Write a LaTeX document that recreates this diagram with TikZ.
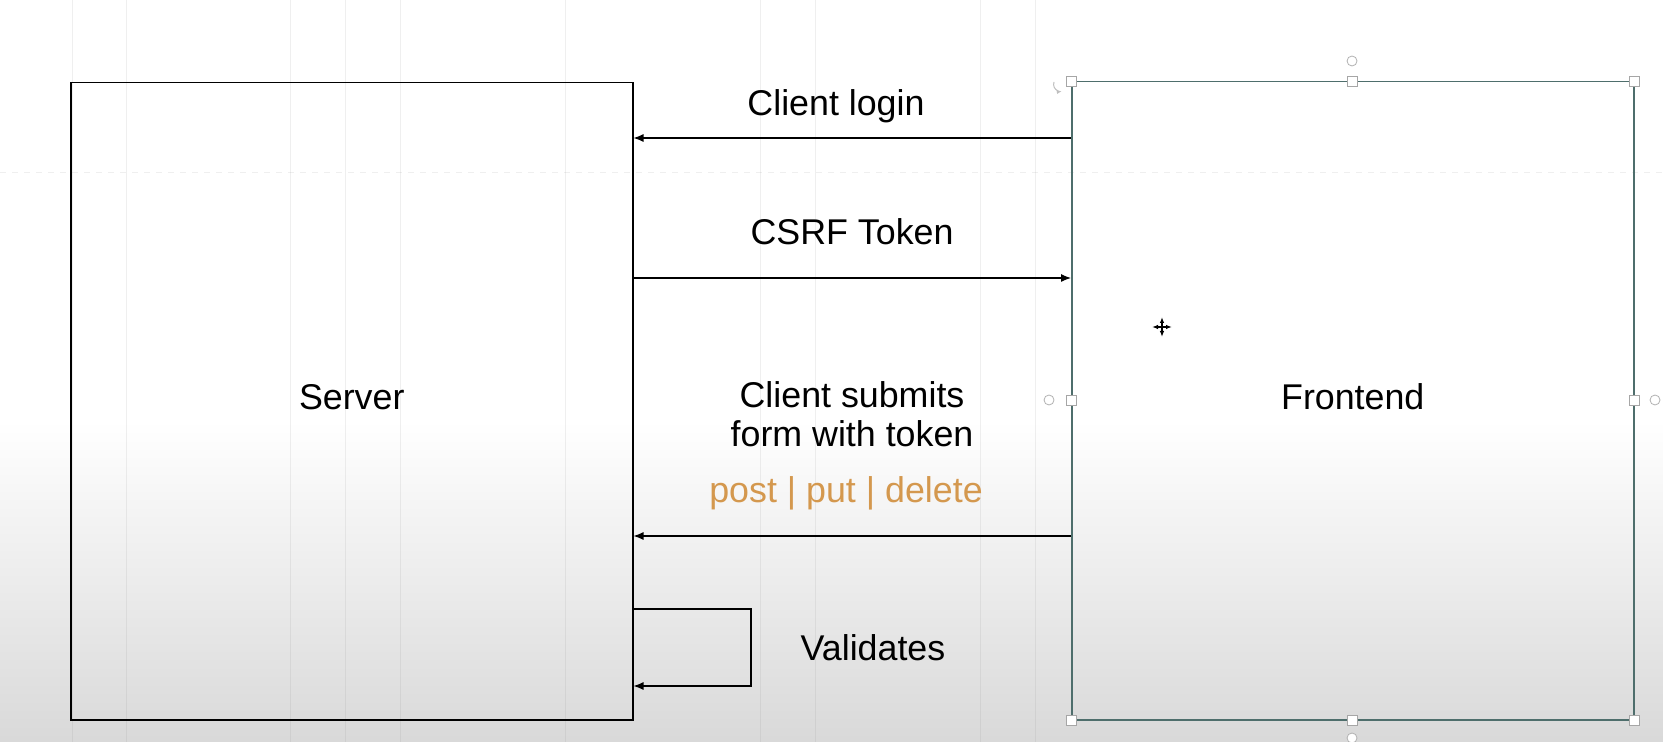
\documentclass[tikz,border=0pt]{standalone}
\usepackage{fontspec}
\setmainfont{Liberation Sans}
\usetikzlibrary{arrows.meta}
\definecolor{tan}{HTML}{D4984E}
\definecolor{selcol}{HTML}{4E6E6C}
\tikzset{
  box/.style={draw=black, line width=0.75pt},
  lbl/.style={font=\fontsize{17.9pt}{19.5pt}\selectfont, align=center, inner sep=0pt},
  msg/.style={draw=black, line width=0.6pt, -{Latex[length=5pt,width=4pt]}},
  handle/.style={draw=gray!70, fill=white, line width=0.4pt, minimum size=5pt, inner sep=0pt},
  rot/.style={draw=gray!60, fill=white, circle, line width=0.4pt, minimum size=5pt, inner sep=0pt},
  gridline/.style={draw=gray, opacity=0.12, line width=0.4pt},
}
\begin{document}
\begin{tikzpicture}[x=0.5pt,y=-0.5pt]
\useasboundingbox (0,0) rectangle (1663,742);
\fill[white] (0,0) rectangle (1663,420);
\shade[top color=white, bottom color=gray!30] (0,420) rectangle (1663,742);
% faint grid lines
\foreach \x in {72,126,290,345,400,565,760,815,980,1035} \draw[gridline] (\x,0) -- (\x,742);
\draw[gridline, dashed] (0,172) -- (1663,172);
% boxes
\node[box, minimum width=281pt, minimum height=318.5pt, inner sep=0pt, anchor=north west] (server) at (70,82) {};
\node[box, draw=selcol, minimum width=281pt, minimum height=319pt, inner sep=0pt, anchor=north west] (front) at (1071,81) {};
\node[lbl] (st) at ([yshift=2.2pt]server.center) {Server};
\node[lbl] (ft) at ([yshift=2.2pt]front.center) {Frontend};
% connectors
\coordinate (f1) at (front.west |- 0,138);
\coordinate (s1) at (server.east |- 0,138);
\draw[msg] (f1) -- (s1);
\node[lbl] (l1) at (836,106) {Client login};
\coordinate (s2) at (server.east |- 0,278);
\coordinate (f2) at (front.west |- 0,278);
\draw[msg] (s2) -- (f2);
\node[lbl] (l2) at (852,232) {CSRF Token};
\node[lbl] (l3) at (852,414) {Client submits\\form with token};
\node[lbl, text=tan] (l4) at (846,493) {post | put | delete};
\coordinate (f3) at (front.west |- 0,536);
\coordinate (s3) at (server.east |- 0,536);
\draw[msg] (f3) -- (s3);
\coordinate (sv1) at (server.east |- 0,609);
\coordinate (sv2) at (server.east |- 0,686);
\draw[msg] (sv1) -- (751,609) -- (751,686) -- (sv2);
\node[lbl] (l5) at (873,648) {Validates};
% selection handles
\foreach \p in {front.north west, front.north, front.north east, front.west, front.east, front.south west, front.south, front.south east}
  \node[handle] at (\p) {};
\node[rot] (r1) at (1352,61) {};
\node[rot] (r2) at (1049,400) {};
\node[rot] (r3) at (1655,400) {};
\node[rot] (r4) at (1352,738) {};
\draw[gray!50, line width=0.5pt, -{Latex[length=2.5pt]}] (1054,82) arc (200:80:7);
% move cursor
\draw[black, line width=0.8pt, {Latex[length=3pt]}-{Latex[length=3pt]}] (1152,327) -- (1172,327);
\draw[black, line width=0.8pt, {Latex[length=3pt]}-{Latex[length=3pt]}] (1162,317) -- (1162,337);
\end{tikzpicture}
\end{document}
